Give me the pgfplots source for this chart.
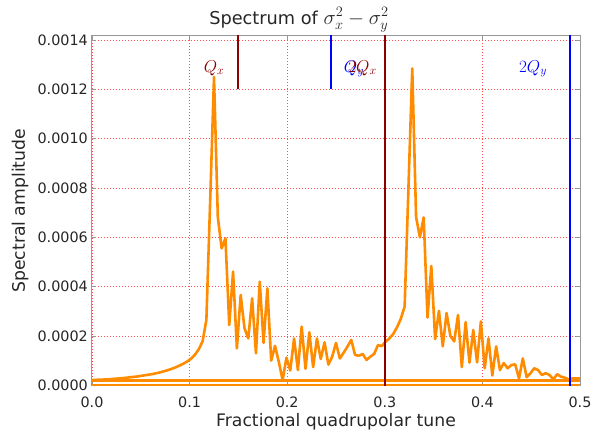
\documentclass[border=0pt]{standalone}
\usepackage{fontspec}
\setmainfont{DejaVu Sans}
\usepackage{pgfplots}
\pgfplotsset{compat=1.18}
\definecolor{dorange}{HTML}{FF8C00}
\definecolor{mdarkred}{HTML}{8B0000}
\definecolor{mblue}{HTML}{0000FF}
\definecolor{framegray}{HTML}{999999}
\definecolor{txt}{HTML}{262626}
\begin{document}
\begin{tikzpicture}[x=1bp,y=1bp]
\useasboundingbox (-92,-45.3) rectangle (499,385.7);
\begin{axis}[
  at={(0,0)}, anchor=south west,
  width=488bp, height=349.7bp, scale only axis,
  xmin=0, xmax=0.5, ymin=-0.0000016, ymax=0.0014162,
  xtick={0,0.1,0.2,0.3,0.4,0.5},
  ytick={0,0.0002,0.0004,0.0006,0.0008,0.001,0.0012,0.0014},
  scaled y ticks=false, scaled x ticks=false,
  x tick label style={/pgf/number format/fixed,/pgf/number format/fixed zerofill,/pgf/number format/precision=1,
     inner sep=0pt, anchor=north, yshift=-11.3bp},
  y tick label style={/pgf/number format/fixed,/pgf/number format/fixed zerofill,/pgf/number format/precision=4,
     inner sep=0pt, anchor=east, xshift=-4bp},
  /pgf/number format/assume math mode=true,
  tick label style={font=\fontsize{14.4}{16}\selectfont, text=txt},
  tick align=inside,
  major tick length=4bp,
  tick style={framegray, line width=0.8bp},
  axis line style={framegray, line width=1bp},
  grid=major,
  major grid style={red!70, line width=0.8bp, dash pattern=on 1bp off 2bp},
  every axis title/.style={at={(axis description cs:0.424,1.0332)}, anchor=base, inner sep=0pt, font=\fontsize{17.8}{20}\selectfont, text=txt},
  title={Spectrum of {\fontsize{20.5}{22}\selectfont$\sigma_x^2-\sigma_y^2$}},
  xlabel={Fractional quadrupolar tune},
  xlabel style={at={(axis description cs:0.5,-0.1167)}, anchor=base, inner sep=0pt, font=\fontsize{17.3}{20}\selectfont, text=txt},
  ylabel={Spectral amplitude},
  ylabel style={at={(axis description cs:-0.1475,0.5)}, anchor=center, inner sep=0pt, font=\fontsize{17.3}{20}\selectfont, text=txt},
]
% spectrum
\addplot[dorange, line width=2.6bp, line join=round] coordinates {
(0,0.0000215) (0.015625,0.000024) (0.03125,0.000029) (0.046875,0.000036)
(0.0625,0.000046) (0.0703125,0.000053) (0.078125,0.000062) (0.0859375,0.000073)
(0.09375,0.000088) (0.09765625,0.000097) (0.1015625,0.000108) (0.10546875,0.000124)
(0.109375,0.000146) (0.11328125,0.000178) (0.1171875,0.000265) (0.12109375,0.00075)
(0.125,0.00125) (0.12890625,0.000683) (0.1328125,0.000555) (0.13671875,0.000596)
(0.140625,0.000244) (0.14453125,0.000461) (0.1484375,0.00015) (0.15234375,0.000366)
(0.15625,0.000231) (0.16015625,0.00019) (0.1640625,0.000353) (0.16796875,0.00013)
(0.171875,0.00042) (0.17578125,0.000172) (0.1796875,0.000393) (0.18359375,0.0001)
(0.1875,0.00016) (0.19140625,0.000095) (0.1953125,0.000021) (0.19921875,0.000112)
(0.203125,0.00006) (0.20703125,0.00019) (0.2109375,0.000062) (0.21484375,0.000238)
(0.21875,0.000067) (0.22265625,0.000215) (0.2265625,0.000074) (0.23046875,0.00019)
(0.234375,0.000107) (0.23828125,0.000174) (0.2421875,0.000084) (0.24609375,0.000116)
(0.25,0.000172) (0.25390625,0.000109) (0.2578125,0.000132) (0.26171875,0.000157)
(0.265625,0.000184) (0.26953125,0.000123) (0.2734375,0.00012) (0.27734375,0.000127)
(0.28125,0.000103) (0.28515625,0.000116) (0.2890625,0.000127) (0.29296875,0.000163)
(0.296875,0.000159) (0.30078125,0.000177) (0.3046875,0.00019) (0.30859375,0.000208)
(0.3125,0.000235) (0.31640625,0.00027) (0.3203125,0.000319) (0.32421875,0.0008)
(0.328125,0.001285) (0.33203125,0.000683) (0.3359375,0.0006) (0.33984375,0.000681)
(0.34375,0.000275) (0.34765625,0.000484) (0.3515625,0.000187) (0.35546875,0.000302)
(0.359375,0.000158) (0.36328125,0.000293) (0.3671875,0.0002) (0.37109375,0.000178)
(0.375,0.000285) (0.37890625,0.000074) (0.3828125,0.000256) (0.38671875,0.000092)
(0.390625,0.000224) (0.39453125,0.000093) (0.3984375,0.000259) (0.40234375,0.000069)
(0.40625,0.00019) (0.41015625,0.00004) (0.4140625,0.000158) (0.41796875,0.000062)
(0.421875,0.00009) (0.42578125,0.000069) (0.4296875,0.000082) (0.43359375,0.000085)
(0.4375,0.000028) (0.44140625,0.000109) (0.4453125,0.000033) (0.44921875,0.000049)
(0.453125,0.000069) (0.45703125,0.000062) (0.4609375,0.000042) (0.46484375,0.000049)
(0.46875,0.000042) (0.47265625,0.000024) (0.4765625,0.000045) (0.48046875,0.000035)
(0.484375,0.000031) (0.48828125,0.000024) (0.4921875,0.000028) (0.49609375,0.000028)
(0.5,0.000028)
};
% wrap-around baseline segments
\addplot[dorange, line width=2.6bp] coordinates {(0,0.0000186) (0.5,0.0000186)};
\addplot[dorange, line width=2.6bp] coordinates {(0,0.0000012) (0.5,0.0000012)};
% tune lines
\addplot[mdarkred, line width=2bp] coordinates {(0.15,0.0012) (0.15,0.0015)};
\addplot[mblue, line width=2bp] coordinates {(0.245,0.0012) (0.245,0.0015)};
\addplot[mdarkred, line width=2bp] coordinates {(0.30,-0.0001) (0.30,0.0015)};
\addplot[mblue, line width=2bp] coordinates {(0.49,-0.0001) (0.49,0.0015)};
% labels
\node[anchor=base, text=mdarkred, font=\fontsize{18.5}{20}\selectfont] at (axis cs:0.125,0.00127) {$Q_x$};
\node[anchor=base, text=mblue, font=\fontsize{18.5}{20}\selectfont] at (axis cs:0.2684,0.00127) {$Q_y$};
\node[anchor=base, text=mdarkred, font=\fontsize{18.5}{20}\selectfont] at (axis cs:0.2771,0.00127) {$2Q_x$};
\node[anchor=base, text=mblue, font=\fontsize{18.5}{20}\selectfont] at (axis cs:0.4518,0.00127) {$2Q_y$};
\end{axis}
\end{tikzpicture}
\end{document}
